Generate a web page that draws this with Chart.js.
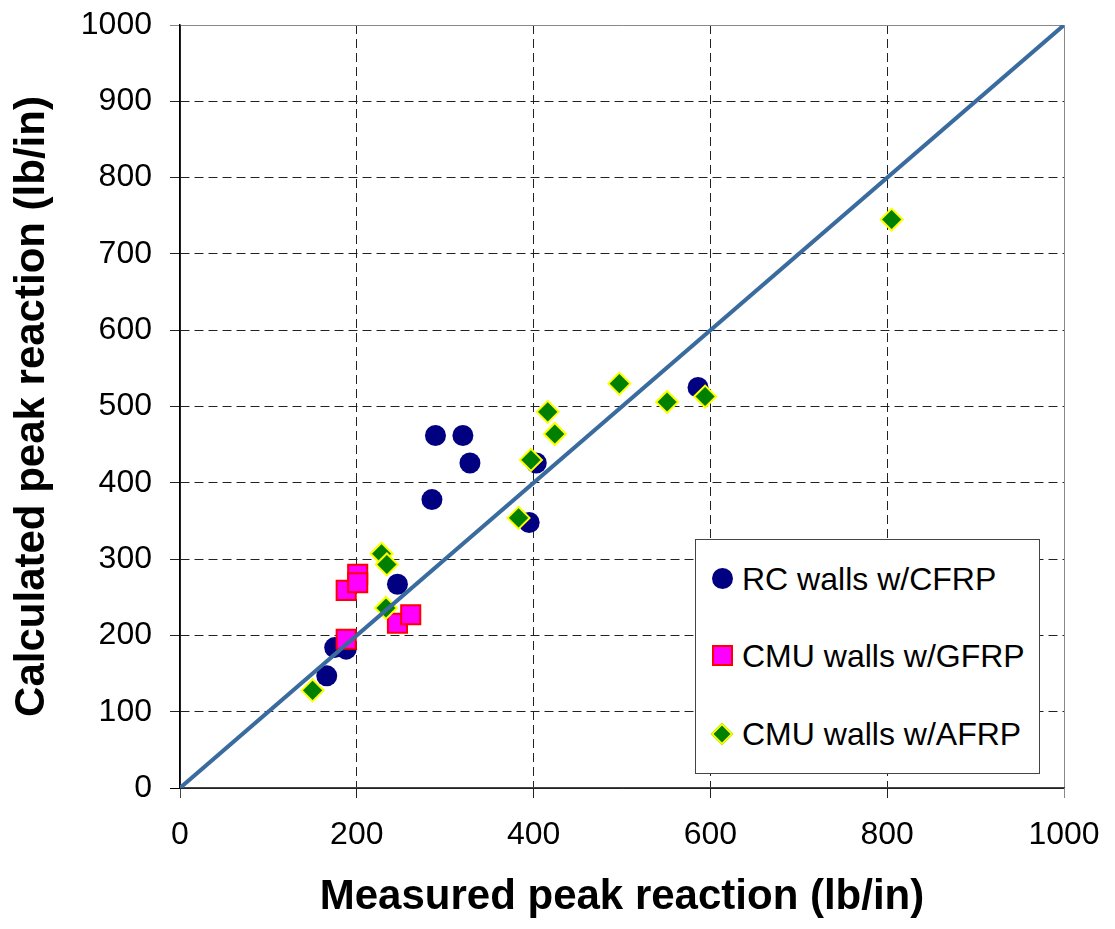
<!DOCTYPE html>
<html>
<head>
<meta charset="utf-8">
<script src="https://cdn.jsdelivr.net/npm/chart.js@4"></script>
<style>
  body { margin: 0; background: #fff; }
  #wrap { position: relative; width: 1115px; height: 929px; }
  #legend {
    position: absolute; left: 695px; top: 539px; width: 343px; height: 233px;
    border: 1.5px solid #444; background: #fff;
    font-family: "Liberation Sans", Arial, sans-serif; font-size: 32px; color: #000;
  }
  .item { position: absolute; left: 0; height: 40px; line-height: 40px; white-space: nowrap; }
  .item span.txt { position: absolute; left: 46px; top: 0; }
  .mk { position: absolute; left: 16px; top: 9px; width: 21px; height: 21px; box-sizing: border-box; }
  .circ { background: #000080; border-radius: 50%; }
  .sq { background: #ff00ff; border: 2px solid #ff0000; }
  .dia { width: 16px; height: 16px; left: 18px; top: 12px; background: #008000; border: 2px solid #ffff00; transform: rotate(45deg); }
</style>
</head>
<body>
<div id="wrap">
  <canvas id="myChart" width="1115" height="929"></canvas>
  <div id="legend">
    <div class="item" style="top:19px"><div class="mk circ"></div><span class="txt">RC walls w/CFRP</span></div>
    <div class="item" style="top:96px"><div class="mk sq"></div><span class="txt">CMU walls w/GFRP</span></div>
    <div class="item" style="top:174px"><div class="mk dia"></div><span class="txt">CMU walls w/AFRP</span></div>
  </div>
</div>
<script>
// values (lb/in)
const rcX = [166, 175, 188, 246, 285, 289, 320, 328, 395, 403, 586]
const rcY = [147, 184, 182, 267, 378, 462, 462, 426, 348, 426, 525]
const gfrpX = [188, 188, 201, 201, 246, 261]
const gfrpY = [259, 195, 280, 269, 216, 227]
const afrpX = [150, 228, 234, 233, 383, 397, 416, 424, 497, 551, 594, 805]
const afrpY = [128, 307, 293, 236, 354, 430, 493, 464, 530, 506, 513, 745]
const lineX = [0, 1000]
const lineY = [0, 1000]
const xTicks = [0, 200, 400, 600, 800, 1000]
const yTicks = [0, 100, 200, 300, 400, 500, 600, 700, 800, 900, 1000]

function pts(xs, ys) {
  return xs.map((x, i) => ({ x: x, y: ys[i] }))
}

function gridColor(ctx, zeroColor) {
  if (!ctx.tick) return '#222'
  if (ctx.tick.value === 0) return zeroColor
  if (ctx.tick.value === 1000) return '#888'
  return '#222'
}
function gridDash(ctx) {
  if (!ctx.tick) return []
  if (ctx.tick.value === 0 || ctx.tick.value === 1000) return []
  return [9, 5]
}

const font = "'Liberation Sans', Arial, sans-serif"
Chart.defaults.font.family = font
Chart.defaults.color = '#000'

const ctx = document.getElementById('myChart')
new Chart(ctx, {
  type: 'scatter',
  data: {
    datasets: [
      {
        type: 'line',
        label: 'line',
        data: pts(lineX, lineY),
        borderColor: '#3a6b9f',
        borderWidth: 4,
        pointRadius: 0,
        order: 0
      },
      {
        label: 'CMU walls w/AFRP',
        data: pts(afrpX, afrpY),
        pointStyle: 'rectRot',
        pointRadius: 11,
        backgroundColor: '#008000',
        borderColor: '#ffff00',
        borderWidth: 2,
        order: 1
      },
      {
        label: 'CMU walls w/GFRP',
        data: pts(gfrpX, gfrpY),
        pointStyle: 'rect',
        pointRadius: 13.5,
        backgroundColor: '#ff00ff',
        borderColor: '#ff0000',
        borderWidth: 2,
        order: 2
      },
      {
        label: 'RC walls w/CFRP',
        data: pts(rcX, rcY),
        pointStyle: 'circle',
        pointRadius: 10.5,
        backgroundColor: '#000080',
        borderWidth: 0,
        order: 3
      }
    ]
  },
  options: {
    responsive: false,
    animation: false,
    layout: { padding: { top: 25, right: 51, left: 0, bottom: 0 } },
    plugins: { legend: { display: false }, tooltip: { enabled: false } },
    scales: {
      x: {
        type: 'linear',
        min: 0,
        max: 1000,
        afterBuildTicks: (scale) => { scale.ticks = xTicks.map(v => ({ value: v })) },
        afterFit: (scale) => {
          scale.height = 141
          scale.paddingLeft = 0
          scale.paddingRight = 0
        },
        ticks: { font: { size: 32 }, padding: 18, maxRotation: 0, callback: (v) => String(v) },
        grid: { color: (c) => gridColor(c, '#444'), tickLength: 10, lineWidth: 1 },
        border: { color: '#444', width: 1.5, dash: gridDash },
        title: {
          display: true,
          text: 'Measured peak reaction (lb/in)',
          font: { size: 42, weight: 'bold' },
          padding: { top: 0, bottom: 6 }
        }
      },
      y: {
        type: 'linear',
        min: 0,
        max: 1000,
        afterBuildTicks: (scale) => { scale.ticks = yTicks.map(v => ({ value: v })) },
        afterFit: (scale) => {
          scale.width = 180
          scale.paddingTop = 0
          scale.paddingBottom = 0
        },
        ticks: { font: { size: 32 }, padding: 18, callback: (v) => String(v) },
        grid: { color: (c) => gridColor(c, '#000'), tickLength: 10, lineWidth: 1 },
        border: { color: '#000', width: 1.5, dash: gridDash },
        title: {
          display: true,
          text: 'Calculated peak reaction (lb/in)',
          font: { size: 42, weight: 'bold' },
          padding: { top: 7, bottom: 0 }
        }
      }
    }
  }
})
</script>
</body>
</html>
